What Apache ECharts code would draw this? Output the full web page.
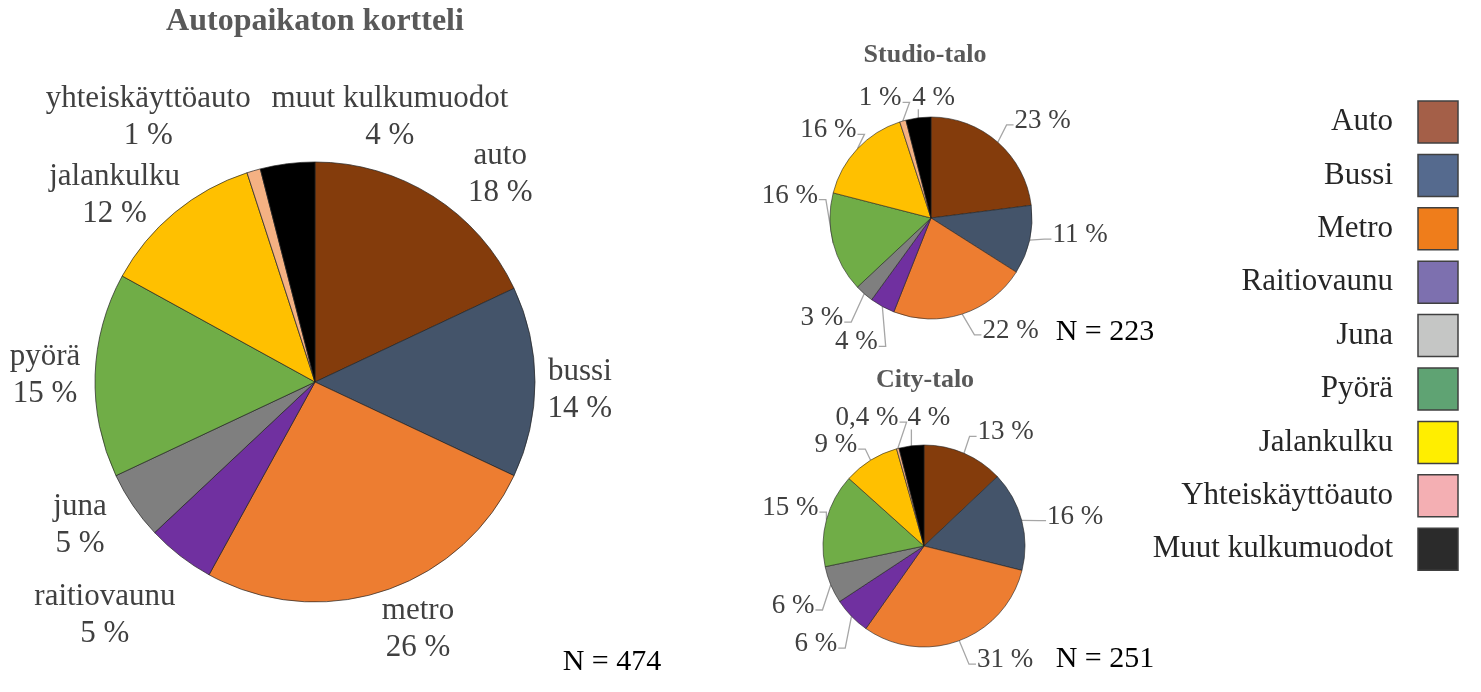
<!DOCTYPE html>
<html>
<head>
<meta charset="utf-8">
<script src="https://cdn.jsdelivr.net/npm/echarts@6/dist/echarts.min.js"></script>
<style>html,body{margin:0;padding:0;background:#fff}#c{width:1481px;height:692px}</style>
</head>
<body>
<div id="c"></div>
<script>
const categories = ['auto','bussi','metro','raitiovaunu','juna','pyörä','jalankulku','yhteiskäyttöauto','muut kulkumuodot'];
const mainValues = [18,14,26,5,5,15,12,1,4];
const studioValues = [23,11,22,4,3,16,16,1,4];
const cityValues = [13,16,31,6,6,15,9,0.4,4];
const sliceColors = ['#843C0C','#44546A','#ED7D31','#7030A0','#7F7F7F','#70AD47','#FFC000','#F4B183','#000000'];
const legendNames = ['Auto','Bussi','Metro','Raitiovaunu','Juna','Pyörä','Jalankulku','Yhteiskäyttöauto','Muut kulkumuodot'];
const legendColors = ['#A45F48','#556A8E','#EF7D1B','#7D70AF','#C5C6C5','#5FA373','#FFEE00','#F4AFB3','#2B2B2B'];
const titles = ['Autopaikaton kortteli','Studio-talo','City-talo'];
const nLabels = ['N = 474','N = 223','N = 251'];

// label placement (layout only): [angle deg clockwise from top, distance from centre px]
const mainLabelPlace   = [[41.8,278],[91.7,265],[157.4,268],[222,314],[238.7,275],[271.5,270],[313,274],[327.8,313],[15.8,275]];
const studioLabelPlace = [[49,148],[96.5,150],[144.8,138],[211,145],[227.5,148],[279,143],[310.5,135],[337,130],[1.3,120]];
const cityLabelPlace   = [[35.7,140],[79,154],[144.6,140],[227.8,146],[245.4,144],[285.8,139],[318.9,134],[336,140],[2.2,128]];

const FONT = '"Liberation Serif","Times New Roman",serif';
const fmt = v => String(v).replace('.', ',') + ' %';

function mkData(vals){
  return vals.map((v,i)=>({name:categories[i], value:v, itemStyle:{color:sliceColors[i]}}));
}
function midAngles(vals){
  const tot = vals.reduce((a,b)=>a+b,0); let c=0;
  return vals.map(v=>{const m=(c+v/2)/tot*360; c+=v; return m;});
}

function placer(center, r, vals, place, withLine){
  const mids = midAngles(vals);
  return function(p){
    const i = p.dataIndex;
    const a = place[i][0]*Math.PI/180, d = place[i][1];
    const x = center[0] + d*Math.sin(a), y = center[1] - d*Math.cos(a);
    const res = {x:x, y:y, align:'center', verticalAlign:'middle'};
    if (withLine){
      const m = mids[i]*Math.PI/180;
      const p0 = [center[0] + r*Math.sin(m), center[1] - r*Math.cos(m)];
      const w = p.labelRect.width, h = p.labelRect.height;
      if (Math.abs(Math.sin(a)) < 0.3 && Math.cos(a) > 0){
        const by = y + h*0.42;
        res.labelLinePoints = [p0, [p0[0], (p0[1]+by)/2], [p0[0], by]];
      } else {
        const side = Math.sin(a) > 0 ? -1 : 1;
        const ly = y + h*0.15;
        const p2 = [x + side*(w/2+1), ly];
        const p1 = [p2[0] + side*7, ly];
        res.labelLinePoints = [p0, p1, p2];
      }
    }
    return res;
  };
}

const chart = echarts.init(document.getElementById('c'), null, {renderer:'canvas'});

const graphics = [];
[[315,22,32],[925,55,26],[925,380,26]].forEach((p,i)=>{
  graphics.push({type:'text', x:p[0], y:p[1], style:{text:titles[i], align:'center', verticalAlign:'middle', font:'bold '+p[2]+'px '+FONT, fill:'#595959'}});
});
[[612,662],[1105,332],[1105,659]].forEach((p,i)=>{
  graphics.push({type:'text', x:p[0], y:p[1], style:{text:nLabels[i], align:'center', verticalAlign:'middle', font:'30px '+FONT, fill:'#000'}});
});
legendNames.forEach((n,i)=>{
  const yc = 122 + i*53.4;
  graphics.push({type:'rect', shape:{x:1418, y:yc-21, width:40, height:42}, style:{fill:legendColors[i], stroke:'#404040', lineWidth:1.5}});
  graphics.push({type:'text', x:1393, y:yc, style:{text:n, align:'right', verticalAlign:'middle', font:'31px '+FONT, fill:'#262626'}});
});

const smallLabel = {show:true, position:'outside', overflow:'none', formatter:p=>fmt(p.value), fontFamily:FONT, fontSize:27, color:'#404040'};
const smallLine = {show:true, length:12, length2:8, lineStyle:{color:'#A6A6A6', width:1.3}};

const MC = [315,382], MR = 220, SC = [931,218], CC = [924,546], SR = 101;

chart.setOption({
  backgroundColor:'#ffffff',
  animation:false,
  graphic:graphics,
  series:[
    {
      type:'pie', center:MC, radius:MR, startAngle:90, clockwise:true,
      data:mkData(mainValues),
      itemStyle:{borderColor:'#222', borderWidth:0.7},
      label:{show:true, position:'outside', overflow:'none', formatter:p=>p.name+'\n'+fmt(p.value), fontFamily:FONT, fontSize:31, lineHeight:37, color:'#404040', align:'center'},
      labelLine:{show:false, length:20, length2:0},
      labelLayout:placer(MC, MR, mainValues, mainLabelPlace, false),
      emphasis:{disabled:true}
    },
    {
      type:'pie', center:SC, radius:SR, startAngle:90, clockwise:true,
      data:mkData(studioValues),
      itemStyle:{borderColor:'#222', borderWidth:0.6},
      label:smallLabel, labelLine:smallLine,
      labelLayout:placer(SC, SR, studioValues, studioLabelPlace, true),
      emphasis:{disabled:true}
    },
    {
      type:'pie', center:CC, radius:SR, startAngle:90, clockwise:true,
      data:mkData(cityValues),
      itemStyle:{borderColor:'#222', borderWidth:0.6},
      label:smallLabel, labelLine:smallLine,
      labelLayout:placer(CC, SR, cityValues, cityLabelPlace, true),
      emphasis:{disabled:true}
    }
  ]
});
</script>
</body>
</html>
